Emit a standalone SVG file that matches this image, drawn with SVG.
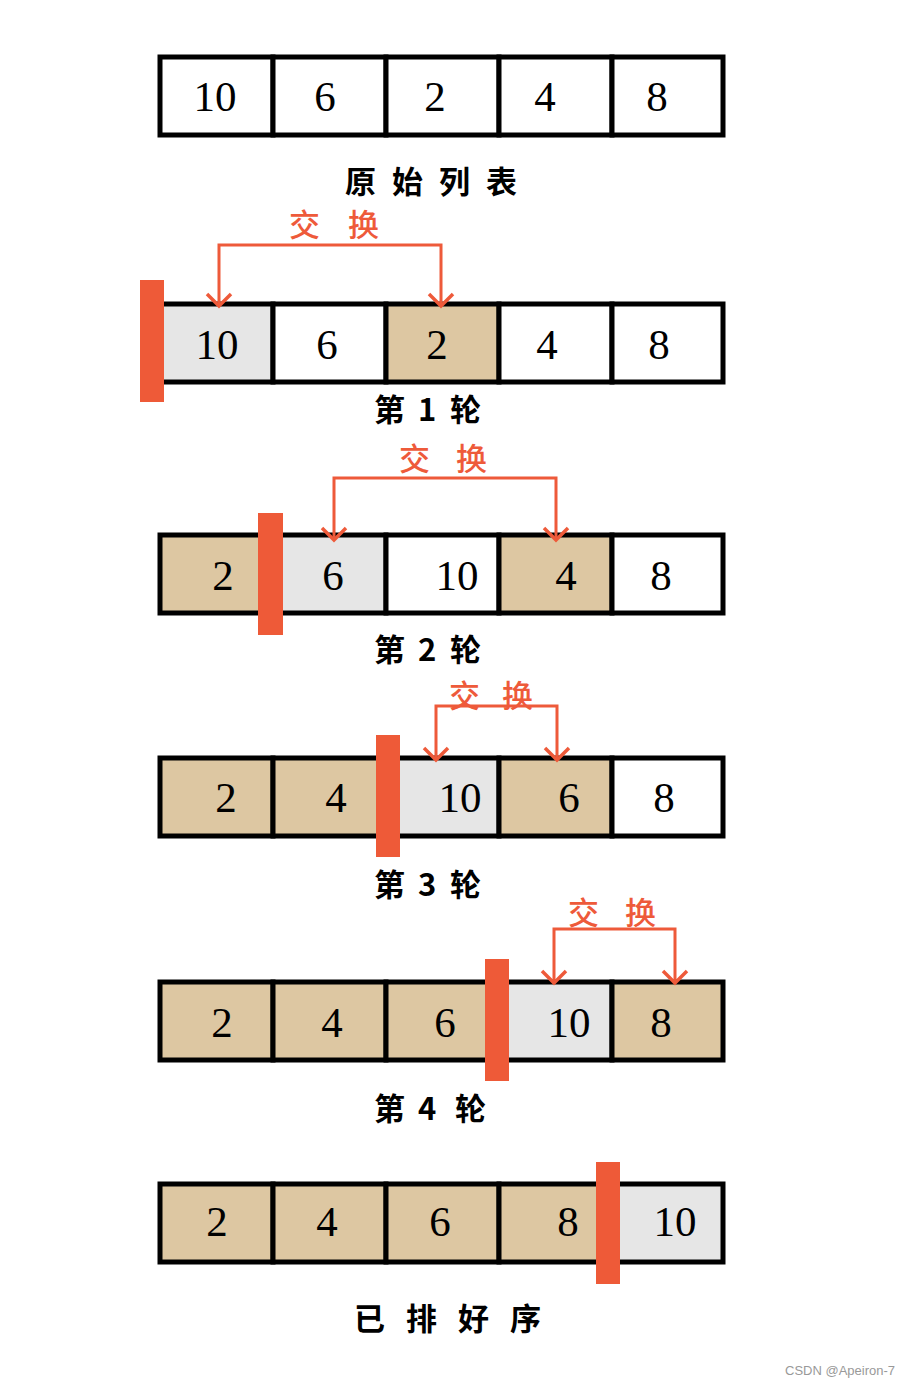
<svg xmlns="http://www.w3.org/2000/svg" width="916" height="1387" viewBox="0 0 916 1387">
<defs>
<style>
.cell{stroke:#000;stroke-width:5}
.w{fill:#fff}.t{fill:#ddc7a2}.g{fill:#e6e6e6}
.num{font-family:"Liberation Serif","DejaVu Serif",serif;font-size:43px;fill:#000;text-anchor:middle}
.lbl{font-family:"Noto Sans CJK SC","Noto Sans",sans-serif;font-size:31px;font-weight:700;fill:#000}
.sw{font-family:"Noto Sans CJK SC","Noto Sans",sans-serif;font-size:31px;font-weight:500;fill:#ee5a3a}
.bar{fill:#ee5a38}
.br{fill:none;stroke:#ee5a3a;stroke-width:3;marker-start:url(#chev);marker-end:url(#chev)}
.wm{font-family:"Liberation Sans",Arial,sans-serif;font-size:13px;fill:#999}
</style>
<marker id="chev" markerUnits="userSpaceOnUse" markerWidth="30" markerHeight="30" viewBox="-15 -15 30 30" refX="0" refY="0" orient="auto-start-reverse">
<path d="M-12,-12 L0,0 L-12,12" fill="none" stroke="#ee5a3a" stroke-width="3.5"/>
</marker>
</defs>

<g id="row0">
<rect class="cell w" x="160" y="57" width="113" height="78"/>
<rect class="cell w" x="273" y="57" width="113" height="78"/>
<rect class="cell w" x="386" y="57" width="113" height="78"/>
<rect class="cell w" x="499" y="57" width="113" height="78"/>
<rect class="cell w" x="612" y="57" width="111" height="78"/>
<text class="num" x="215" y="111">10</text>
<text class="num" x="325" y="111">6</text>
<text class="num" x="435" y="111">2</text>
<text class="num" x="545" y="111">4</text>
<text class="num" x="657" y="111">8</text>
<text class="lbl" x="345" y="193" letter-spacing="16">原始列表</text>
</g>

<g id="row1">
<rect class="cell g" x="160" y="304" width="113" height="78"/>
<rect class="cell w" x="273" y="304" width="113" height="78"/>
<rect class="cell t" x="386" y="304" width="113" height="78"/>
<rect class="cell w" x="499" y="304" width="113" height="78"/>
<rect class="cell w" x="612" y="304" width="111" height="78"/>
<rect class="bar" x="140" y="280" width="24" height="122"/>
<text class="num" x="217" y="359">10</text>
<text class="num" x="327" y="359">6</text>
<text class="num" x="437" y="359">2</text>
<text class="num" x="547" y="359">4</text>
<text class="num" x="659" y="359">8</text>
<text class="sw" x="289" y="236" letter-spacing="28">交换</text>
<text class="lbl" y="421"><tspan x="374">第</tspan><tspan x="418">1</tspan><tspan x="450">轮</tspan></text>
</g>

<g id="row2">
<rect class="cell t" x="160" y="535" width="113" height="78"/>
<rect class="cell g" x="273" y="535" width="113" height="78"/>
<rect class="cell w" x="386" y="535" width="113" height="78"/>
<rect class="cell t" x="499" y="535" width="113" height="78"/>
<rect class="cell w" x="612" y="535" width="111" height="78"/>
<rect class="bar" x="258" y="513" width="25" height="122"/>
<text class="num" x="223" y="590">2</text>
<text class="num" x="333" y="590">6</text>
<text class="num" x="457" y="590">10</text>
<text class="num" x="566" y="590">4</text>
<text class="num" x="661" y="590">8</text>
<text class="sw" x="399" y="470" letter-spacing="26">交换</text>
<text class="lbl" y="661"><tspan x="374">第</tspan><tspan x="418">2</tspan><tspan x="450">轮</tspan></text>
</g>

<g id="row3">
<rect class="cell t" x="160" y="758" width="113" height="78"/>
<rect class="cell t" x="273" y="758" width="113" height="78"/>
<rect class="cell g" x="386" y="758" width="113" height="78"/>
<rect class="cell t" x="499" y="758" width="113" height="78"/>
<rect class="cell w" x="612" y="758" width="111" height="78"/>
<rect class="bar" x="376" y="735" width="24" height="122"/>
<text class="num" x="226" y="812">2</text>
<text class="num" x="336" y="812">4</text>
<text class="num" x="460" y="812">10</text>
<text class="num" x="569" y="812">6</text>
<text class="num" x="664" y="812">8</text>
<text class="sw" x="449" y="707" letter-spacing="22">交换</text>
<text class="lbl" y="896"><tspan x="374">第</tspan><tspan x="418">3</tspan><tspan x="450">轮</tspan></text>
</g>

<g id="row4">
<rect class="cell t" x="160" y="982" width="113" height="78"/>
<rect class="cell t" x="273" y="982" width="113" height="78"/>
<rect class="cell t" x="386" y="982" width="113" height="78"/>
<rect class="cell g" x="499" y="982" width="113" height="78"/>
<rect class="cell t" x="612" y="982" width="111" height="78"/>
<rect class="bar" x="485" y="959" width="24" height="122"/>
<text class="num" x="222" y="1037">2</text>
<text class="num" x="332" y="1037">4</text>
<text class="num" x="445" y="1037">6</text>
<text class="num" x="569" y="1037">10</text>
<text class="num" x="661" y="1037">8</text>
<text class="sw" x="568" y="924" letter-spacing="26">交换</text>
<text class="lbl" y="1120"><tspan x="374">第</tspan><tspan x="418">4</tspan><tspan x="455">轮</tspan></text>
</g>

<g id="row5">
<rect class="cell t" x="160" y="1184" width="113" height="78"/>
<rect class="cell t" x="273" y="1184" width="113" height="78"/>
<rect class="cell t" x="386" y="1184" width="113" height="78"/>
<rect class="cell t" x="499" y="1184" width="113" height="78"/>
<rect class="cell g" x="612" y="1184" width="111" height="78"/>
<rect class="bar" x="596" y="1162" width="24" height="122"/>
<text class="num" x="217" y="1236">2</text>
<text class="num" x="327" y="1236">4</text>
<text class="num" x="440" y="1236">6</text>
<text class="num" x="568" y="1236">8</text>
<text class="num" x="675" y="1236">10</text>
<text class="lbl" x="354" y="1330" letter-spacing="21">已排好序</text>
</g>

<g id="connectors">
<path class="br" d="M219,306 V245 H441 V306"/>
<path class="br" d="M334,540 V478 H556 V540"/>
<path class="br" d="M436,760 V706 H557 V760"/>
<path class="br" d="M554,983 V929 H675 V983"/>
</g>

<text class="wm" x="785" y="1375">CSDN @Apeiron-7</text>
</svg>
